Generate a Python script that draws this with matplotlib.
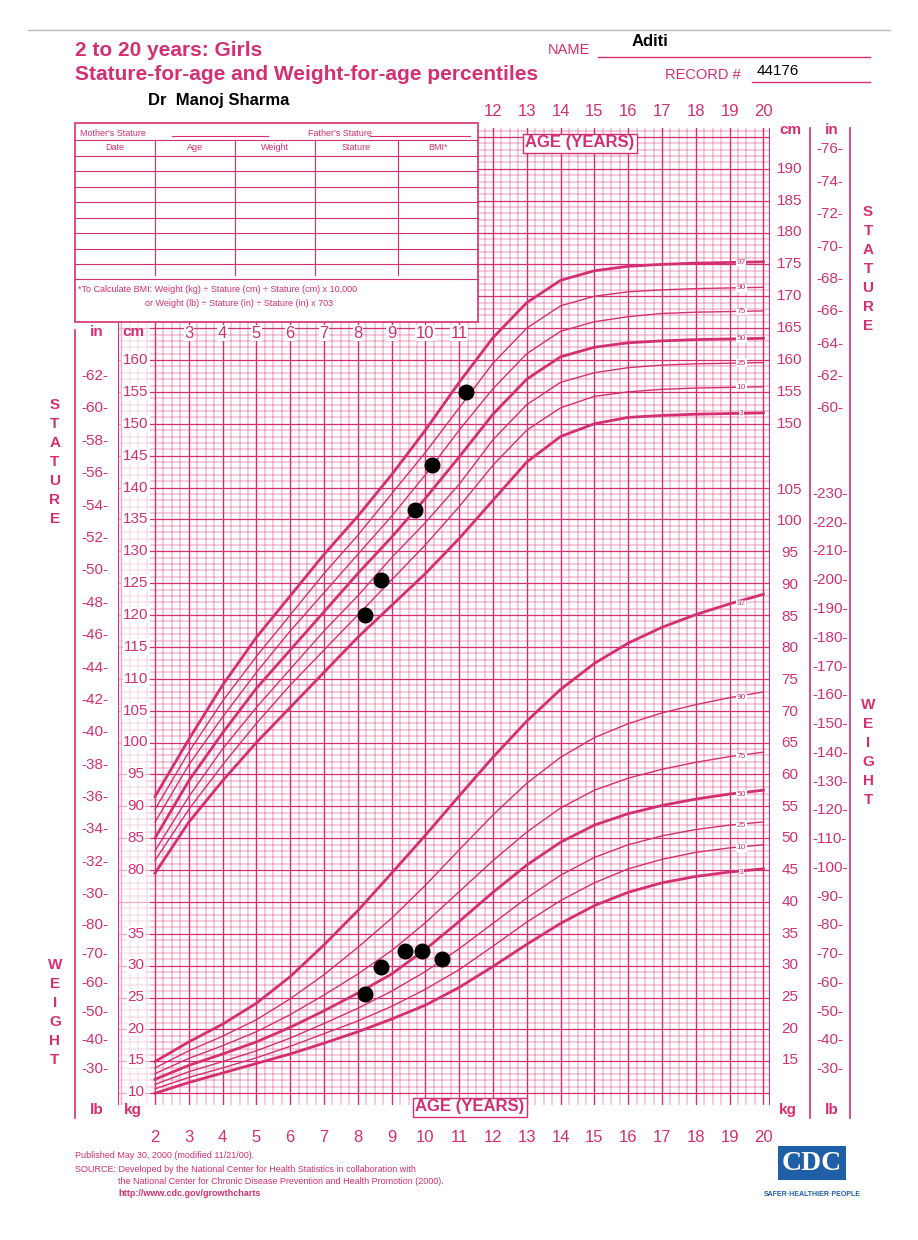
import numpy as np
import matplotlib
matplotlib.use("Agg")
import matplotlib.pyplot as plt
from matplotlib.patches import Rectangle
from matplotlib.transforms import blended_transform_factory

plt.rcParams['font.family'] = ['Liberation Sans', 'DejaVu Sans']

ages = [2,3,4,5,6,7,8,9,10,11,12,13,14,15,16,17,18,19,20]
pct_labels = ["3","10","25","50","75","90","97"]
stature = {
 "3":  [79.5,87.5,94,100,105.5,111,116.5,121.5,126.5,132,138,144,148,150,151,151.3,151.5,151.6,151.7],
 "10": [81.5,89.5,96.5,103,109,114.5,120,125.5,131,137,143.5,149,152.5,154.3,155,155.4,155.6,155.7,155.8],
 "25": [83,91.5,99,105.5,111.5,117.5,123,129,134.5,140.5,147.5,153,156.5,158,158.8,159.2,159.4,159.5,159.6],
 "50": [85,94,101.5,108.5,114.5,120.5,126.5,132.2,138.3,144.8,151.5,157,160.5,162,162.7,163,163.2,163.3,163.4],
 "75": [87.5,96.5,104,111,117.5,123.5,129.5,135.5,142,149,155.5,161,164.5,166,166.8,167.3,167.5,167.6,167.7],
 "90": [89.5,98.5,106.5,113.5,120,126.5,132.5,139,145.5,152.5,159.5,165,168.5,170,170.7,171,171.2,171.3,171.4],
 "97": [91.5,100.5,109,116.5,123,129.5,135.5,142,149,156.5,163.5,169,172.5,174,174.7,175,175.2,175.3,175.4],
}
weight = {
 "3":  [9.8,11.5,13,14.5,16,17.7,19.5,21.5,23.7,26.5,29.8,33.3,36.6,39.4,41.5,43,44,44.7,45.2],
 "10": [10.5,12.3,13.8,15.4,17.2,19.2,21.2,23.5,26.2,29.3,33,36.8,40.2,43,45.2,46.7,47.8,48.5,49],
 "25": [11.2,13.2,14.8,16.5,18.5,20.8,23.2,25.9,29,32.6,36.6,40.6,44.2,47,49,50.4,51.4,52.1,52.6],
 "50": [12.0,14.2,16.0,17.9,20.2,22.8,25.6,28.6,32.5,36.9,41.5,45.8,49.4,52.1,53.9,55.2,56.2,57.0,57.6],
 "75": [12.9,15.3,17.3,19.5,22.2,25.3,28.6,32.3,36.7,41.6,46.5,51,54.8,57.6,59.5,60.9,62,62.9,63.6],
 "90": [13.8,16.5,18.8,21.4,24.7,28.5,32.8,37.4,42.6,48.2,53.7,58.7,62.8,65.9,68.1,69.8,71.1,72.2,73.1],
 "97": [14.8,17.9,20.7,24,28.2,33.2,38.6,44.5,50.5,56.7,62.8,68.5,73.5,77.6,80.8,83.3,85.3,87,88.5],
}
pt_stat_age = [8.2,8.7,9.7,10.2,11.2]
pt_stat = [120,125.5,136.5,143.5,155]
pt_wt_age = [8.2,8.7,9.4,9.9,10.5]
pt_wt = [25.5,29.7,32.3,32.3,31.0]

C = '#d42f72'
W, H = 918, 1240
fig = plt.figure(figsize=(W/100, H/100), dpi=100)
fig.patch.set_facecolor('white')
def fx(px): return px/W
def fy(py): return 1-py/H
def T(px, py, s, **kw):
    kw.setdefault('color', C); kw.setdefault('fontsize', 9)
    fig.text(fx(px), fy(py), s, **kw)

L, R, B, Tp = 118, 770, 1105, 128
ax = fig.add_axes([fx(L), fy(B), fx(R)-fx(L), fy(Tp)-fy(B)])
xmin, xmax = 2-37/33.8, 2+615/33.8
cm_lo, cm_hi = 160-(B-360)/6.375, 160-(Tp-360)/6.375
kg_lo, kg_hi = 10+(1092-B)/6.34, 10+(1092-Tp)/6.34
ax.set_xlim(xmin, xmax); ax.set_ylim(cm_lo, cm_hi)
ax.axis('off')
ax2 = ax.twinx(); ax2.set_ylim(kg_lo, kg_hi); ax2.axis('off')

for a in np.arange(1.0, 20.01, 0.25):
    lw = 1.0 if abs(a-round(a)) < 1e-6 else 0.35
    ax.axvline(a, color=C, lw=lw, zorder=1)
for c in np.arange(45, 197):
    lw = 0.9 if c % 5 == 0 else 0.35
    ax.axhline(c, color=C, lw=lw, zorder=1)
ax.axvline(xmin, color=C, lw=1.5); ax.axvline(xmax, color=C, lw=1.5)
tx1 = 2+(478-155)/33.8
tcm = 160-(322-360)/6.375
ax.add_patch(Rectangle((xmin-0.5, tcm), tx1-xmin+0.5, 40, facecolor='white', edgecolor='none', zorder=2))
ax.add_patch(Rectangle((xmin, cm_lo), 2-(155-150)/33.8-xmin, 200, facecolor='white', edgecolor='none', zorder=1.5, alpha=0.6))

for p in pct_labels:
    lw = 2.0 if p in ("3","50","97") else 1.0
    ax.plot(ages, stature[p], color=C, lw=lw, zorder=3)
    ax2.plot(ages, weight[p], color=C, lw=lw, zorder=3)
    ax.text(19.35, stature[p][17], p, fontsize=6, color=C, ha='center', va='center', zorder=4,
            bbox=dict(fc='white', ec='none', pad=0.3))
    ax2.text(19.35, weight[p][17], p, fontsize=6, color=C, ha='center', va='center', zorder=4,
             bbox=dict(fc='white', ec='none', pad=0.3))
ax.scatter(pt_stat_age, pt_stat, s=110, color='black', zorder=5)
ax2.scatter(pt_wt_age, pt_wt, s=110, color='black', zorder=5)

bt = blended_transform_factory(fig.transFigure, ax.transData)
bt2 = blended_transform_factory(fig.transFigure, ax2.transData)
for c in range(80, 165, 5):
    ax.text(fx(136), c, str(c), transform=bt, fontsize=11, color=C, ha='center', va='center', zorder=4,
            bbox=dict(fc='white', ec='none', pad=0.5))
for c in range(150, 195, 5):
    ax.text(fx(790), c, str(c), transform=bt, fontsize=11, color=C, ha='center', va='center')
for k in range(10, 40, 5):
    ax2.text(fx(136), k, str(k), transform=bt2, fontsize=11, color=C, ha='center', va='center', zorder=4,
             bbox=dict(fc='white', ec='none', pad=0.5))
for k in range(15, 110, 5):
    ax2.text(fx(790), k, str(k), transform=bt2, fontsize=11, color=C, ha='center', va='center')
for i in range(30, 64, 2):
    ax.text(fx(95), i*2.54, f"-{i}-", transform=bt, fontsize=11, color=C, ha='center', va='center')
for i in range(60, 78, 2):
    ax.text(fx(830), i*2.54, f"-{i}-", transform=bt, fontsize=11, color=C, ha='center', va='center')
for lb in range(30, 90, 10):
    ax2.text(fx(95), lb/2.2046, f"-{lb}-", transform=bt2, fontsize=11, color=C, ha='center', va='center')
for lb in range(30, 240, 10):
    ax2.text(fx(830), lb/2.2046, f"-{lb}-", transform=bt2, fontsize=11, color=C, ha='center', va='center')
for px in (75, 810, 850):
    fig.add_artist(plt.Line2D([fx(px)]*2, [fy(330), fy(1118)] if px == 75 else [fy(128), fy(1118)], color=C, lw=1.2))

for a in range(2, 21):
    T(155+(a-2)*33.8, 1137, str(a), fontsize=12, ha='center', va='center')
for a in range(12, 21):
    T(155+(a-2)*33.8, 112, str(a), fontsize=12, ha='center', va='center')
for a in range(3, 12):
    T(155+(a-2)*33.8, 333, str(a), fontsize=12, ha='center', va='center',
      bbox=dict(fc='white', ec='none', pad=0.5))
T(97, 332, "in", fontsize=11, weight='bold', ha='center', va='center')
T(133, 332, "cm", fontsize=11, weight='bold', ha='center', va='center')
T(790, 130, "cm", fontsize=11, weight='bold', ha='center', va='center')
T(832, 130, "in", fontsize=11, weight='bold', ha='center', va='center')
T(97, 1110, "lb", fontsize=11, weight='bold', ha='center', va='center')
T(133, 1110, "kg", fontsize=11, weight='bold', ha='center', va='center')
T(788, 1110, "kg", fontsize=11, weight='bold', ha='center', va='center')
T(832, 1110, "lb", fontsize=11, weight='bold', ha='center', va='center')
T(580, 143, "AGE (YEARS)", fontsize=12, weight='bold', ha='center', va='center',
  bbox=dict(fc='white', ec=C, pad=1.5))
T(470, 1107, "AGE (YEARS)", fontsize=12, weight='bold', ha='center', va='center',
  bbox=dict(fc='white', ec=C, pad=1.5))
for i, ch in enumerate("STATURE"):
    T(55, 405+i*19, ch, fontsize=11, weight='bold', ha='center', va='center')
    T(868, 212+i*19, ch, fontsize=11, weight='bold', ha='center', va='center')
for i, ch in enumerate("WEIGHT"):
    T(55, 965+i*19, ch, fontsize=11, weight='bold', ha='center', va='center')
    T(868, 705+i*19, ch, fontsize=11, weight='bold', ha='center', va='center')

T(75, 50, "2 to 20 years: Girls", fontsize=15, weight='bold', va='center')
T(75, 75, "Stature-for-age and Weight-for-age percentiles", fontsize=15, weight='bold', va='center')
T(148, 101, "Dr  Manoj Sharma", fontsize=12, weight='bold', color='black', va='center')
T(548, 50, "NAME", fontsize=10.5, va='center')
fig.add_artist(plt.Line2D([fx(598), fx(870)], [fy(57)]*2, color=C, lw=1))
T(632, 42, "Aditi", fontsize=12, weight='bold', color='black', va='center')
T(665, 75, "RECORD #", fontsize=10.5, va='center')
fig.add_artist(plt.Line2D([fx(752), fx(870)], [fy(82)]*2, color=C, lw=1))
T(757, 71, "44176", fontsize=11, color='black', va='center')
fig.add_artist(plt.Line2D([fx(28), fx(890)], [fy(30)]*2, color='#bbbbbb', lw=1))

fig.add_artist(Rectangle((fx(75), fy(322)), fx(478)-fx(75), fy(123)-fy(322), transform=fig.transFigure,
                         fc='none', ec=C, lw=1.2))
T(80, 133, "Mother's Stature", fontsize=6.5, va='center')
fig.add_artist(plt.Line2D([fx(172), fx(268)], [fy(136)]*2, color=C, lw=0.8))
T(308, 133, "Father's Stature", fontsize=6.5, va='center')
fig.add_artist(plt.Line2D([fx(370), fx(470)], [fy(136)]*2, color=C, lw=0.8))
cols = [75, 155, 235, 315, 398, 478]
for x0, x1, h in zip(cols[:-1], cols[1:], ["Date", "Age", "Weight", "Stature", "BMI*"]):
    T((x0+x1)/2, 147, h, fontsize=6.5, ha='center', va='center')
for px in cols[1:-1]:
    fig.add_artist(plt.Line2D([fx(px)]*2, [fy(140), fy(275)], color=C, lw=0.8))
for py in np.arange(140, 280, 15.5):
    fig.add_artist(plt.Line2D([fx(75), fx(478)], [fy(py)]*2, color=C, lw=0.8))
T(78, 290, "*To Calculate BMI: Weight (kg) ÷ Stature (cm) ÷ Stature (cm) x 10,000", fontsize=6.5, va='center')
T(145, 304, "or Weight (lb) ÷ Stature (in) ÷ Stature (in) x 703", fontsize=6.5, va='center')

T(75, 1156, "Published May 30, 2000 (modified 11/21/00).", fontsize=6.5, va='center')
T(75, 1169, "SOURCE: Developed by the National Center for Health Statistics in collaboration with", fontsize=6.5, va='center')
T(118, 1181, "the National Center for Chronic Disease Prevention and Health Promotion (2000).", fontsize=6.5, va='center')
T(118, 1193, "http://www.cdc.gov/growthcharts", fontsize=6.5, weight='bold', va='center')
T(812, 1163, "CDC", fontsize=20, color='white', family='Liberation Serif', weight='bold', ha='center', va='center',
  bbox=dict(fc='#1f5fa8', ec='none', pad=3))
T(812, 1195, "SAFER·HEALTHIER·PEOPLE", fontsize=5, color='#1f5fa8', weight='bold', ha='center', va='center')

fig.savefig("out.png", dpi=100)
